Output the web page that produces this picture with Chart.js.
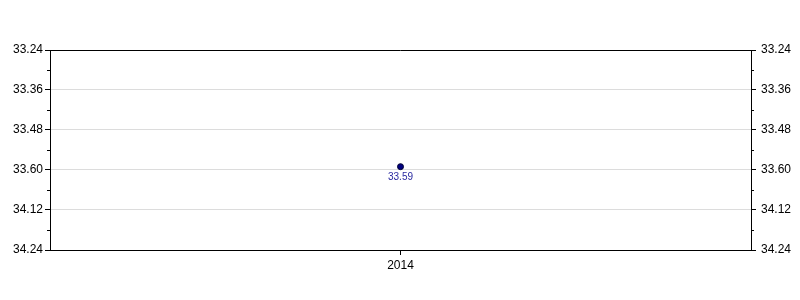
<!DOCTYPE html>
<html>
<head>
<meta charset="utf-8">
<script src="https://cdn.jsdelivr.net/npm/chart.js@4/dist/chart.umd.min.js"></script>
<style>
html,body{margin:0;padding:0;background:#fff;}
#wrap{width:800px;height:300px;position:relative;}
</style>
</head>
<body>
<div id="wrap"><canvas id="c" width="800" height="300"></canvas></div>
<script>
const categories = ['2014'];
const values = [33.59];
const valueLabels = ['33.59'];
const tickValues = [33.24, 33.36, 33.48, 33.60, 33.72, 33.84];
const tickLabels = ['33.24', '33.36', '33.48', '33.60', '34.12', '34.24'];

const FONT = "'Liberation Sans', Arial, sans-serif";

const framePlugin = {
  id: 'frame',
  afterDraw(chart) {
    const ctx = chart.ctx;
    const a = chart.chartArea;
    ctx.save();
    ctx.strokeStyle = '#000';
    ctx.lineWidth = 1;
    ctx.beginPath();
    ctx.moveTo(a.left, a.top + 0.5);
    ctx.lineTo(a.right, a.top + 0.5);
    ctx.stroke();
    ['y', 'y2'].forEach(id => {
      const s = chart.scales[id];
      for (let i = 0; i < tickValues.length - 1; i++) {
        const mid = (tickValues[i] + tickValues[i + 1]) / 2;
        const py = Math.round(s.getPixelForValue(mid)) + 0.5;
        ctx.beginPath();
        if (id === 'y') { ctx.moveTo(a.left - 3, py); ctx.lineTo(a.left, py); }
        else { ctx.moveTo(a.right, py); ctx.lineTo(a.right + 3, py); }
        ctx.stroke();
      }
    });
    const meta = chart.getDatasetMeta(0);
    ctx.fillStyle = '#2a2aa0';
    ctx.font = '10px ' + FONT;
    ctx.textAlign = 'center';
    ctx.textBaseline = 'top';
    meta.data.forEach((pt, i) => {
      ctx.fillText(valueLabels[i], pt.x, pt.y + 6);
    });
    ctx.restore();
  }
};

function yAxis(position, width, padding, onArea) {
  return {
    type: 'linear',
    position: position,
    reverse: true,
    min: tickValues[0],
    max: tickValues[tickValues.length - 1],
    afterBuildTicks(scale) { scale.ticks = tickValues.map(v => ({ value: v })); },
    afterFit(scale) { scale.width = width; },
    grid: {
      display: true,
      drawOnChartArea: onArea,
      color: '#dcdcdc',
      tickColor: '#000',
      tickLength: 5,
      lineWidth: 1
    },
    border: { display: true, color: '#000', width: 1 },
    ticks: {
      autoSkip: false,
      padding: padding,
      color: '#000',
      font: { family: FONT, size: 12 },
      callback: (v, i) => tickLabels[i]
    }
  };
}

new Chart(document.getElementById('c'), {
  type: 'line',
  data: {
    labels: categories,
    datasets: [{
      data: values,
      borderColor: '#000040',
      backgroundColor: '#000080',
      pointBackgroundColor: '#000080',
      pointBorderColor: '#000033',
      pointBorderWidth: 1,
      pointRadius: 3,
      showLine: false
    }]
  },
  options: {
    responsive: false,
    animation: false,
    devicePixelRatio: 1,
    layout: { padding: { top: 50, left: 0, right: 0, bottom: 0 } },
    plugins: { legend: { display: false }, tooltip: { enabled: false } },
    scales: {
      x: {
        type: 'category',
        offset: true,
        afterFit(scale) { scale.height = 50; },
        grid: { display: true, drawOnChartArea: false, tickColor: '#000', tickLength: 5, offset: false },
        border: { display: true, color: '#000', width: 1 },
        ticks: { color: '#000', padding: 3, font: { family: FONT, size: 12 } }
      },
      y: yAxis('left', 50, 2, true),
      y2: yAxis('right', 49, 5, false)
    }
  },
  plugins: [framePlugin]
});
</script>
</body>
</html>
